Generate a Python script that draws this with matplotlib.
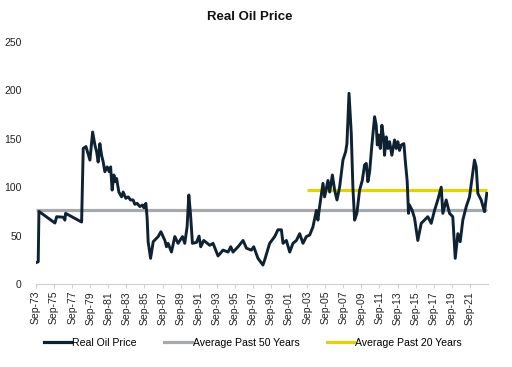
import matplotlib
matplotlib.use("Agg")
import matplotlib.pyplot as plt
from matplotlib.lines import Line2D

plt.rcParams['font.family'] = ['Liberation Sans', 'DejaVu Sans']

# Dates (decimal years) and real oil price values
dates = [1973.67, 1973.92, 1974.0, 1975.77, 1975.96, 1976.69, 1976.87, 1976.95, 1978.72, 1978.9,
         1979.2, 1979.64, 1979.94, 1980.19, 1980.38, 1980.55, 1980.74, 1980.93, 1981.11, 1981.29,
         1981.55, 1981.77, 1981.93, 1982.1, 1982.29, 1982.48, 1982.59, 1982.84, 1983.14, 1983.32,
         1983.61, 1983.87, 1984.13, 1984.42, 1984.61, 1984.86, 1985.16, 1985.46, 1985.6, 1985.83,
         1985.97, 1986.08, 1986.35, 1986.64, 1987.19, 1987.49, 1987.93, 1988.11, 1988.29, 1988.66,
         1989.03, 1989.39, 1989.88, 1990.13, 1990.39, 1990.58, 1990.76, 1990.98, 1991.43, 1991.71,
         1991.9, 1992.23, 1992.9, 1993.26, 1993.81, 1994.37, 1994.92, 1995.22, 1995.47, 1996.03,
         1996.58, 1996.95, 1997.5, 1997.76, 1998.23, 1998.78, 1998.97, 1999.52, 2000.08, 2000.44,
         2000.82, 2001.0, 2001.37, 2001.74, 2002.1, 2002.48, 2002.84, 2003.21, 2003.58, 2003.95,
         2004.31, 2004.69, 2004.86, 2005.05, 2005.42, 2005.6, 2005.97, 2006.16, 2006.46, 2006.71,
         2006.97, 2007.26, 2007.63, 2007.93, 2008.07, 2008.3, 2008.55, 2008.73, 2008.92, 2009.17,
         2009.47, 2009.77, 2010.02, 2010.21, 2010.39, 2010.58, 2010.83, 2011.13, 2011.31, 2011.43,
         2011.57, 2011.76, 2011.94, 2012.12, 2012.23, 2012.42, 2012.6, 2012.79, 2013.04, 2013.34,
         2013.53, 2013.7, 2013.89, 2014.08, 2014.37, 2014.52, 2014.74, 2014.88, 2014.99, 2015.29,
         2015.55, 2015.91, 2016.29, 2016.65, 2017.02, 2017.39, 2017.76, 2018.12, 2018.5, 2018.68,
         2019.05, 2019.42, 2019.78, 2020.05, 2020.34, 2020.6, 2020.89, 2021.27, 2021.63, 2021.93,
         2022.18, 2022.37, 2022.55, 2022.92, 2023.29, 2023.54]
prices = [22, 23, 75, 63, 69.5, 69, 66, 73, 64, 140,
          142, 128, 157, 143.6, 136.7, 126, 145, 133, 126, 116,
          121, 116, 121, 97, 112.6, 105.7, 109, 95, 90, 95,
          88.5, 90, 86.8, 86.8, 82.3, 83.3, 80, 81.6, 78.8, 83.3,
          67.9, 43.7, 26.5, 43.7, 49, 54, 45, 38.5, 42, 33,
          49, 42, 49, 42, 59, 92, 73, 42, 43, 49.5,
          38.5, 45, 40, 42, 29, 35, 33, 38.5, 33, 38.5,
          45, 37, 35, 38.5, 26.5, 19.6, 24.8, 42, 49, 56,
          56, 42, 45, 33, 42, 45, 52, 42, 49, 50.6,
          59, 76, 66, 80, 104, 90, 107, 95, 112.6, 97,
          86.8, 100, 128, 136.7, 145, 197, 155.6, 100, 66, 73,
          97, 107, 123, 124.6, 105.7, 116, 143.6, 172.8, 164, 143.6,
          154, 140, 164, 150.5, 133, 152, 140, 147, 133, 148.8,
          140, 147, 138, 143.6, 145, 128, 105.7, 73, 81.6, 76,
          68, 45, 62.7, 66, 69.5, 62.7, 76, 86.8, 100, 73,
          86.8, 73, 69.5, 26.5, 52, 43.7, 66, 80, 90, 110.8,
          128, 121, 93.6, 86.8, 74.7, 93.6]

avg50_value = 76
avg50_span = [1973.67, 2023.6]
avg20_value = 97.5
avg20_span = [2003.67, 2023.6]

tick_years = list(range(1973, 2022, 2))
tick_labels = ["Sep-%02d" % (y % 100) for y in tick_years]

navy = "#0E2233"
grey = "#A7AAAC"
yellow = "#E3D400"

fig = plt.figure(figsize=(5.12, 3.67), dpi=100)
ax = fig.add_axes([35.5 / 512, 1 - 284 / 367, (487.5 - 35.5) / 512, (284 - 42) / 367])

ax.plot(avg50_span, [avg50_value] * 2, color=grey, lw=2.3, solid_capstyle='butt', zorder=2)
ax.plot(avg20_span, [avg20_value] * 2, color=yellow, lw=2.3, solid_capstyle='butt', zorder=2)
ax.plot(dates, prices, color=navy, lw=2.1, zorder=3, solid_joinstyle='round')

ax.set_xlim(1973.62, 2023.62)
ax.set_ylim(0, 250)
ax.set_yticks([0, 50, 100, 150, 200, 250])
ax.set_xticks([y + 0.67 for y in tick_years])
ax.set_xticklabels(tick_labels, rotation=90, fontsize=7.5, color="#222222")
for s in ['top', 'right', 'left']:
    ax.spines[s].set_visible(False)
ax.spines['bottom'].set_color("#D0D0D0")
ax.tick_params(axis='y', length=0, labelsize=7.5, labelcolor="#222222", pad=10)
ax.tick_params(axis='x', length=3, color="#D0D0D0", pad=2)

fig.text(250 / 512, 1 - 17 / 367, "Real Oil Price", ha='center', va='center',
         fontsize=9.5, fontweight='bold', color="#111111")

handles = [Line2D([], [], color=navy, lw=2.3),
           Line2D([], [], color=grey, lw=2.3),
           Line2D([], [], color=yellow, lw=2.3)]
fig.legend(handles, ["Real Oil Price", "Average Past 50 Years", "Average Past 20 Years"],
           loc='center', bbox_to_anchor=(253 / 512, 1 - 343 / 367), ncol=3, frameon=False,
           fontsize=7.6, handlelength=2.6, handletextpad=0.1, columnspacing=2.6)

fig.savefig("out.png", dpi=100)
